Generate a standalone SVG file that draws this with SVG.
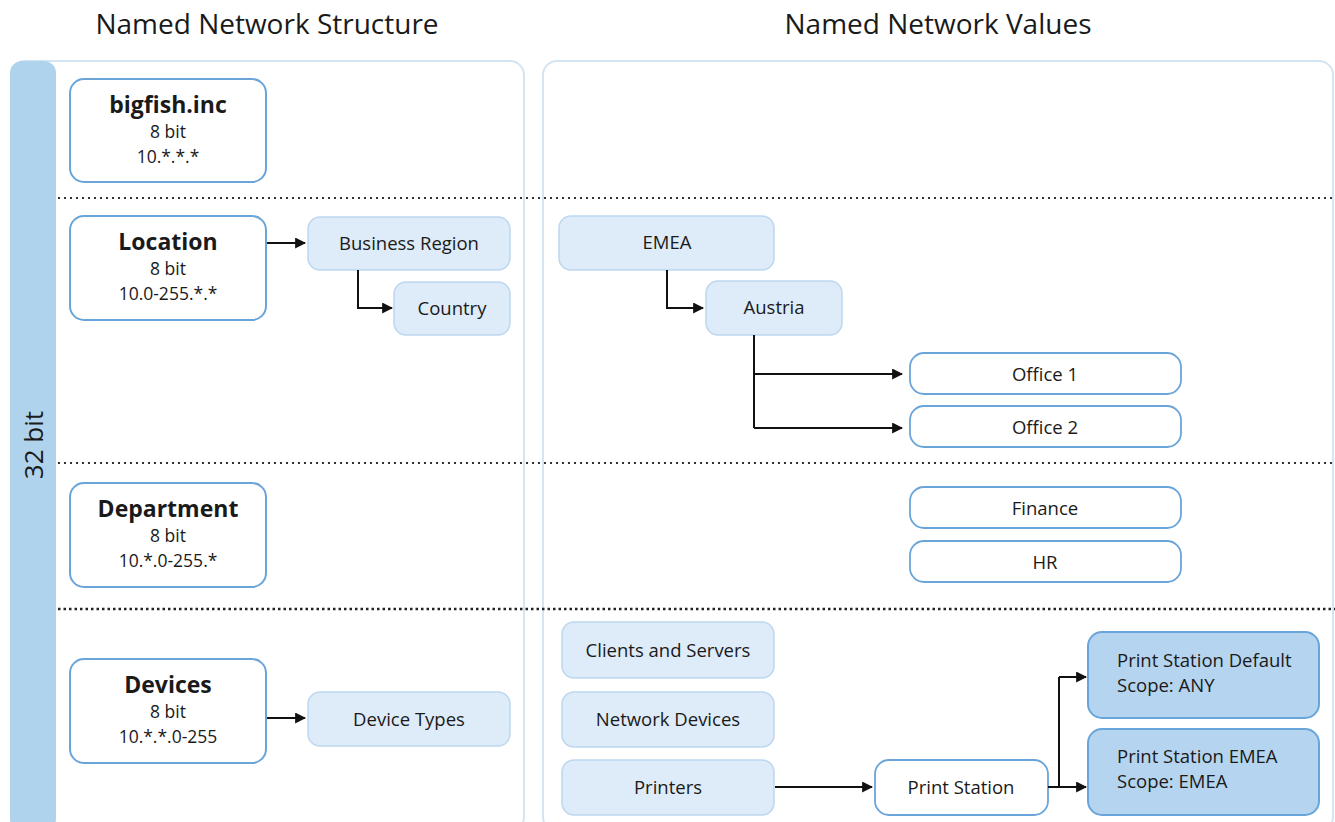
<svg xmlns="http://www.w3.org/2000/svg" width="1335" height="822" viewBox="0 0 1335 822">
<style>
text{font-family:"Open Sans","Noto Sans","Liberation Sans",sans-serif;fill:#1a1a1a;text-anchor:middle}
.hdr{font-size:28px}
.ttl{font-size:23px;font-weight:bold}
.sub{font-size:17.5px}
.lbl{font-size:18.5px}
.lft{text-anchor:start}
.panel{fill:#fff;stroke:#d3e4f3;stroke-width:2}
.cat{fill:#fff;stroke:#6aa5d9;stroke-width:2}
.val{fill:#deebf8;stroke:#bcd7ef;stroke-width:1.5}
.wv{fill:#fff;stroke:#6aa5d9;stroke-width:1.8}
.dk{fill:#b5d4ef;stroke:#6aa5d9;stroke-width:2}
.dot{stroke:#333;stroke-width:2.2;stroke-dasharray:2 4;fill:none}
.dot2{stroke:#222;stroke-width:2.6;stroke-dasharray:2.5 3;fill:none}
.con{stroke:#111;stroke-width:2;fill:none;marker-end:url(#ah)}
.con0{stroke:#111;stroke-width:2;fill:none}
</style>
<defs>
<marker id="ah" viewBox="0 0 10 10" refX="9" refY="5" markerWidth="5.5" markerHeight="5.5" orient="auto" markerUnits="strokeWidth">
<path d="M0,0 L10,5 L0,10 z" fill="#111"/>
</marker>
</defs>
<rect width="1335" height="822" fill="#fff"/>
<text class="hdr" x="267" y="34">Named Network Structure</text>
<text class="hdr" x="938" y="34">Named Network Values</text>
<g id="panels">
<rect class="panel" x="11" y="61" width="513" height="770" rx="14"/>
<rect class="panel" x="543" y="61" width="790" height="770" rx="14"/>
<rect x="10" y="61" width="46" height="770" rx="12" fill="#afd3ec"/>
<text x="43" y="445" transform="rotate(-90 43 445)" style="font-size:26px">32 bit</text>
</g>
<g id="separators">
<line class="dot" x1="58" y1="198" x2="1335" y2="198"/>
<line class="dot" x1="58" y1="463" x2="1335" y2="463"/>
<line class="dot2" x1="58" y1="609" x2="1335" y2="609"/>
</g>
<g id="n-bigfish"><rect class="cat" x="70" y="79" width="196" height="103" rx="14"/><text class="ttl" x="168" y="113">bigfish.inc</text><text class="sub" x="168" y="138">8 bit</text><text class="sub" x="168" y="163">10.*.*.*</text></g>
<g id="n-location"><rect class="cat" x="70" y="216" width="196" height="104" rx="14"/><text class="ttl" x="168" y="250">Location</text><text class="sub" x="168" y="275">8 bit</text><text class="sub" x="168" y="300">10.0-255.*.*</text></g>
<g id="n-department"><rect class="cat" x="70" y="483" width="196" height="104" rx="14"/><text class="ttl" x="168" y="517">Department</text><text class="sub" x="168" y="542">8 bit</text><text class="sub" x="168" y="567">10.*.0-255.*</text></g>
<g id="n-devices"><rect class="cat" x="70" y="659" width="196" height="104" rx="14"/><text class="ttl" x="168" y="693">Devices</text><text class="sub" x="168" y="718">8 bit</text><text class="sub" x="168" y="743">10.*.*.0-255</text></g>
<g id="n-bregion"><rect class="val" x="308" y="217" width="202" height="53" rx="12"/><text class="lbl" x="409" y="250">Business Region</text></g>
<g id="n-country"><rect class="val" x="394" y="282" width="116" height="53" rx="12"/><text class="lbl" x="452" y="315">Country</text></g>
<g id="n-devtypes"><rect class="val" x="308" y="692" width="202" height="54" rx="12"/><text class="lbl" x="409" y="726">Device Types</text></g>
<g id="n-emea"><rect class="val" x="559" y="216" width="215" height="54" rx="12"/><text class="lbl" x="667" y="249">EMEA</text></g>
<g id="n-austria"><rect class="val" x="706" y="281" width="136" height="54" rx="12"/><text class="lbl" x="774" y="314">Austria</text></g>
<g id="n-office1"><rect class="wv" x="910" y="353" width="271" height="41" rx="14"/><text class="lbl" x="1045" y="381">Office 1</text></g>
<g id="n-office2"><rect class="wv" x="910" y="406" width="271" height="41" rx="14"/><text class="lbl" x="1045" y="434">Office 2</text></g>
<g id="n-finance"><rect class="wv" x="910" y="487" width="271" height="41" rx="14"/><text class="lbl" x="1045" y="515">Finance</text></g>
<g id="n-hr"><rect class="wv" x="910" y="541" width="271" height="41" rx="14"/><text class="lbl" x="1045" y="569">HR</text></g>
<g id="n-clients"><rect class="val" x="562" y="622" width="212" height="56" rx="12"/><text class="lbl" x="668" y="657">Clients and Servers</text></g>
<g id="n-netdev"><rect class="val" x="562" y="692" width="212" height="55" rx="12"/><text class="lbl" x="668" y="726">Network Devices</text></g>
<g id="n-printers"><rect class="val" x="562" y="760" width="212" height="55" rx="12"/><text class="lbl" x="668" y="794">Printers</text></g>
<g id="n-pstation"><rect class="wv" x="875" y="760" width="173" height="55" rx="14"/><text class="lbl" x="961" y="794">Print Station</text></g>
<g id="n-psdefault"><rect class="dk" x="1088" y="632" width="231" height="86" rx="14"/><text class="lbl lft" x="1117" y="667">Print Station Default</text><text class="lbl lft" x="1117" y="692">Scope: ANY</text></g>
<g id="n-psemea"><rect class="dk" x="1088" y="729" width="231" height="86" rx="14"/><text class="lbl lft" x="1117" y="763">Print Station EMEA</text><text class="lbl lft" x="1117" y="788">Scope: EMEA</text></g>
<g id="connectors">
<path class="con" d="M267,243 H305"/>
<path class="con" d="M358,270 V308 H392"/>
<path class="con" d="M667,270 V308 H703"/>
<path class="con0" d="M754,335 V428"/>
<path class="con" d="M754,374 H902"/>
<path class="con" d="M754,428 H902"/>
<path class="con" d="M267,718 H305"/>
<path class="con" d="M775,787 H872"/>
<path class="con0" d="M1048,787 H1059 V677"/>
<path class="con" d="M1059,677 H1086"/>
<path class="con" d="M1059,787 H1086"/>
</g>
</svg>
